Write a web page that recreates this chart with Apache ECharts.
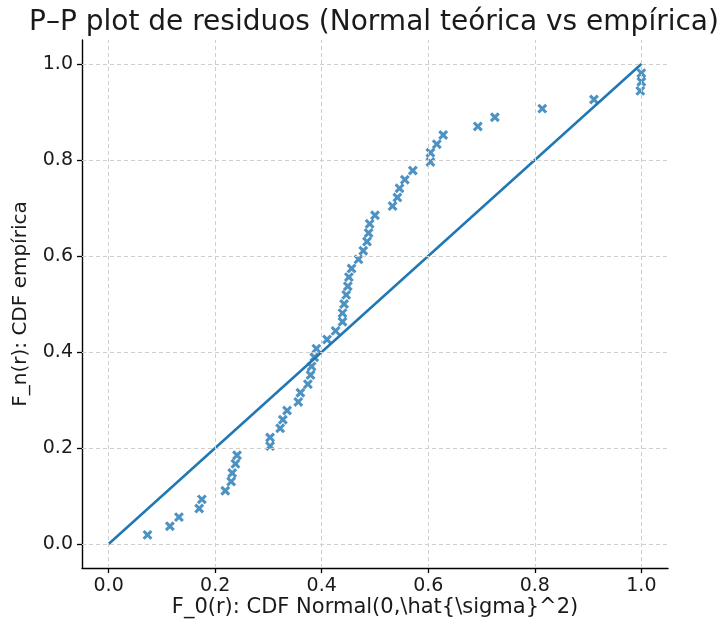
<!DOCTYPE html>
<html>
<head>
<meta charset="utf-8">
<script src="https://cdn.jsdelivr.net/npm/echarts@6/dist/echarts.min.js"></script>
<style>html,body{margin:0;padding:0;background:#fff}#c{width:719px;height:620px}</style>
</head>
<body>
<div id="c"></div>
<script>
const theoreticalCDF = [0.073,0.115,0.132,0.170,0.175,0.219,0.230,0.232,0.238,0.241,0.303,0.303,0.322,0.327,0.335,0.356,0.360,0.374,0.379,0.381,0.386,0.390,0.410,0.426,0.439,0.439,0.442,0.446,0.449,0.451,0.456,0.469,0.478,0.485,0.488,0.490,0.500,0.533,0.542,0.546,0.556,0.571,0.604,0.604,0.616,0.628,0.693,0.725,0.814,0.911,0.998,1.000,1.000];
const empiricalCDF = [0.019,0.037,0.056,0.074,0.093,0.111,0.130,0.148,0.167,0.185,0.204,0.222,0.241,0.259,0.278,0.296,0.315,0.333,0.352,0.370,0.389,0.407,0.426,0.444,0.463,0.481,0.500,0.519,0.537,0.556,0.574,0.593,0.611,0.630,0.648,0.667,0.685,0.704,0.722,0.741,0.759,0.778,0.796,0.815,0.833,0.852,0.870,0.889,0.907,0.926,0.944,0.963,0.981];
const refLineX = [0, 1];
const refLineY = [0, 1];
const tickValues = [0, 0.2, 0.4, 0.6, 0.8, 1.0];

const titleText = 'P–P plot de residuos (Normal teórica vs empírica)';
const xName = 'F_0(r): CDF Normal(0,\\hat{\\sigma}^2)';
const yName = 'F_n(r): CDF empírica';

const FONT = 'DejaVu Sans';
const BLUE = '#1f77b4';

const chart = echarts.init(document.getElementById('c'), null, {renderer: 'canvas'});
const gridStyle = {lineStyle: {color: '#cfcfcf', width: 1, type: [4, 3]}};
function makeAxis(name, gap, nameSize) {
  return {
    type: 'value', min: -0.05, max: 1.05,
    name: name, nameLocation: 'middle', nameGap: gap, nameMoveOverlap: false,
    nameTextStyle: {fontFamily: FONT, fontSize: nameSize, color: '#1a1a1a', lineHeight: nameSize + 2},
    axisLine: {show: true, onZero: false, lineStyle: {color: '#000', width: 1.4}},
    axisTick: {show: true, inside: false, length: 5, customValues: tickValues, lineStyle: {color: '#000', width: 1.3}},
    axisLabel: {customValues: tickValues, margin: 9, fontFamily: FONT, fontSize: 19, color: '#1a1a1a',
      formatter: v => v.toFixed(1)},
    splitLine: {show: false}
  };
}
const lineData = refLineX.map((x, i) => [x, refLineY[i]]);
const ptsData = theoreticalCDF.map((x, i) => [x, empiricalCDF[i]]);
chart.setOption({
  animation: false,
  backgroundColor: '#fff',
  title: {text: titleText, left: 369, top: 4, textAlign: 'center',
    textStyle: {fontFamily: FONT, fontSize: 28, fontWeight: 'normal', color: '#1a1a1a'}},
  grid: {left: 82, right: 51, top: 40, bottom: 52, containLabel: false, outerBoundsMode: 'none'},
  xAxis: makeAxis(xName, 28, 21),
  yAxis: makeAxis(yName, 50, 20),
  series: [
    {type: 'line', data: [], silent: true,
      markLine: {silent: true, symbol: 'none', label: {show: false}, lineStyle: gridStyle.lineStyle,
        data: tickValues.map(v => ({xAxis: v})).concat(tickValues.map(v => ({yAxis: v})))}},
    {type: 'line', data: lineData, showSymbol: false, lineStyle: {color: BLUE, width: 2.5}, z: 3},
    {type: 'scatter', data: ptsData, symbol: 'path://M3.6,0 H6.4 V3.6 H10 V6.4 H6.4 V10 H3.6 V6.4 H0 V3.6 H3.6 Z',
      symbolRotate: 45, symbolSize: 11, itemStyle: {color: BLUE}, z: 4}
  ]
});
</script>
</body>
</html>
